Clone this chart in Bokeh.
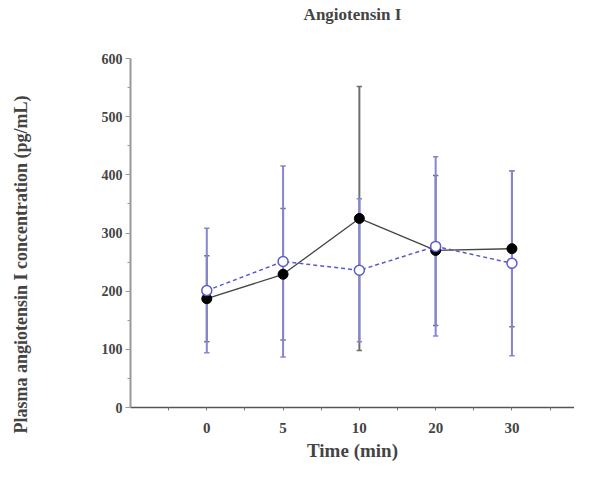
import numpy as np
from bokeh.plotting import figure
from bokeh.models import LinearAxis, FixedTicker, Range1d, Title
from bokeh.layouts import row
from bokeh.embed import file_html
from bokeh.resources import INLINE

# Data
time_labels = ["0", "5", "10", "20", "30"]
positions = [1, 2, 3, 4, 5]
filled_mean = [187, 229, 325, 270, 273]
filled_sd = [74, 113, 227, 129, 134]
open_mean = [201, 251, 236, 277, 248]
open_sd = [107, 164, 123, 154, 159]
y_ticks = [0, 100, 200, 300, 400, 500, 600]

FONT = "Liberation Serif"
Y_TITLE = "Plasma angiotensin I concentration (pg/mL)"

# narrow side panel that carries the rotated y-axis title
side = figure(width=40, height=466, output_backend="svg", toolbar_location=None,
              x_range=Range1d(0, 1), y_range=Range1d(0, 600),
              x_axis_location=None, y_axis_location=None,
              min_border_left=0, min_border_right=0,
              min_border_top=58, min_border_bottom=59)
side.xgrid.visible = False
side.ygrid.visible = False
side.outline_line_color = None
side.add_layout(Title(text=Y_TITLE, align="left", offset=-26, standoff=16,
                      vertical_align="bottom", text_font=FONT,
                      text_font_style="bold", text_font_size="18px"), "left")

p = figure(width=534, height=466, output_backend="svg", toolbar_location=None,
           x_range=Range1d(0, 5.82), y_range=Range1d(0, 600),
           min_border_left=90, min_border_right=0, min_border_top=58, min_border_bottom=59)
p.xgrid.visible = False
p.ygrid.visible = False
p.outline_line_color = None

# y axis
yax = p.left[0]
yax.ticker = FixedTicker(ticks=y_ticks, minor_ticks=list(range(50, 600, 100)))
yax.axis_line_color = "#999999"
yax.axis_line_width = 2
yax.major_tick_line_color = "#999999"
yax.minor_tick_line_color = "#999999"
yax.major_tick_out = 5
yax.major_tick_in = 0
yax.minor_tick_out = 3
yax.minor_tick_in = 0
yax.major_label_text_font = FONT
yax.major_label_text_font_style = "bold"
yax.major_label_text_font_size = "14px"
yax.major_label_standoff = 3

# x axis
xax = p.below[0]
xax.ticker = FixedTicker(ticks=positions, minor_ticks=[0.5, 1.5, 2.5, 3.5, 4.5, 5.5])
xax.major_label_overrides = {pos: lab for pos, lab in zip(positions, time_labels)}
xax.axis_line_color = "#555555"
xax.axis_line_width = 1.5
xax.major_tick_line_color = "#777777"
xax.minor_tick_line_color = "#777777"
xax.major_tick_out = 3
xax.major_tick_in = 0
xax.minor_tick_out = 3
xax.minor_tick_in = 0
xax.major_label_text_font = FONT
xax.major_label_text_font_style = "bold"
xax.major_label_text_font_size = "15px"
xax.major_label_standoff = 12
xax.axis_label = "Time (min)"
xax.axis_label_text_font = FONT
xax.axis_label_text_font_style = "bold"
xax.axis_label_text_font_size = "19px"
xax.axis_label_standoff = 4

# chart title as a label-only axis above the frame
title_ax = LinearAxis(ticker=FixedTicker(ticks=[]))
title_ax.axis_line_color = None
title_ax.major_tick_line_color = None
title_ax.minor_tick_line_color = None
title_ax.major_label_text_color = None
title_ax.axis_label = "Angiotensin I"
title_ax.axis_label_text_font = FONT
title_ax.axis_label_text_font_style = "bold"
title_ax.axis_label_text_font_size = "17px"
title_ax.axis_label_standoff = 35
p.add_layout(title_ax, "above")

# error bars
def errbars(means, sds, color, width):
    x = np.array(positions, dtype=float)
    m = np.array(means, dtype=float)
    s = np.array(sds, dtype=float)
    p.segment(x0=x, y0=m - s, x1=x, y1=m + s, line_color=color, line_width=width)
    cw = 0.035
    p.segment(x0=x - cw, y0=m - s, x1=x + cw, y1=m - s, line_color=color, line_width=1.5)
    p.segment(x0=x - cw, y0=m + s, x1=x + cw, y1=m + s, line_color=color, line_width=1.5)

errbars(filled_mean, filled_sd, "#6e6e6e", 2)
errbars(open_mean, open_sd, "#8585d4", 2)

# lines
p.line(positions, filled_mean, line_color="#444444", line_width=1.3)
p.line(positions, open_mean, line_color="#5a5ad0", line_width=1.5, line_dash="4 3")

p.scatter(positions, filled_mean, size=10, fill_color="black", line_color="black")
p.scatter(positions, open_mean, size=10, fill_color="white", line_color="#5a5ad0", line_width=1.5)

layout = row(side, p)
open("out.html", "w").write(file_html(layout, INLINE))
